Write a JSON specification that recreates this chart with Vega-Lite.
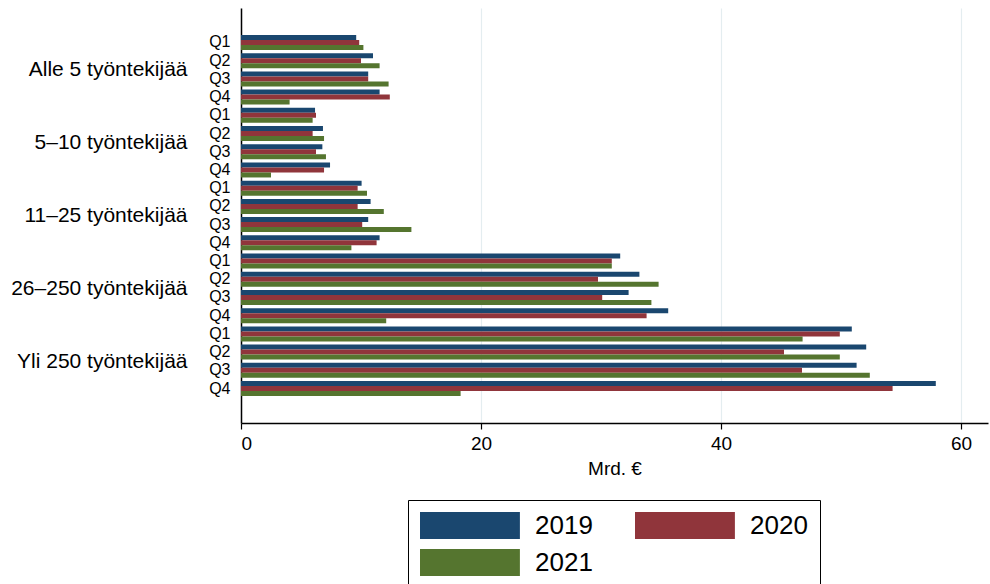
{
  "$schema": "https://vega.github.io/schema/vega-lite/v6.json",
  "width": 747,
  "height": 415,
  "autosize": "none",
  "padding": {"left": 241, "top": 8, "right": 2, "bottom": 161},
  "background": "white",
  "config": {
    "view": {"stroke": null},
    "font": "Liberation Sans",
    "axis": {"labelFont": "Liberation Sans", "titleFont": "Liberation Sans"},
    "legend": {"labelFont": "Liberation Sans"}
  },
  "data": {
    "values": [
      {"koko": "Alle 5 työntekijää", "q": "Q1", "vuosi": "2019", "arvo": 9.6},
      {"koko": "Alle 5 työntekijää", "q": "Q1", "vuosi": "2020", "arvo": 9.85},
      {"koko": "Alle 5 työntekijää", "q": "Q1", "vuosi": "2021", "arvo": 10.2},
      {"koko": "Alle 5 työntekijää", "q": "Q2", "vuosi": "2019", "arvo": 11.0},
      {"koko": "Alle 5 työntekijää", "q": "Q2", "vuosi": "2020", "arvo": 10.0},
      {"koko": "Alle 5 työntekijää", "q": "Q2", "vuosi": "2021", "arvo": 11.55},
      {"koko": "Alle 5 työntekijää", "q": "Q3", "vuosi": "2019", "arvo": 10.6},
      {"koko": "Alle 5 työntekijää", "q": "Q3", "vuosi": "2020", "arvo": 10.6},
      {"koko": "Alle 5 työntekijää", "q": "Q3", "vuosi": "2021", "arvo": 12.3},
      {"koko": "Alle 5 työntekijää", "q": "Q4", "vuosi": "2019", "arvo": 11.55},
      {"koko": "Alle 5 työntekijää", "q": "Q4", "vuosi": "2020", "arvo": 12.4},
      {"koko": "Alle 5 työntekijää", "q": "Q4", "vuosi": "2021", "arvo": 4.05},
      {"koko": "5–10 työntekijää", "q": "Q1", "vuosi": "2019", "arvo": 6.17},
      {"koko": "5–10 työntekijää", "q": "Q1", "vuosi": "2020", "arvo": 6.25},
      {"koko": "5–10 työntekijää", "q": "Q1", "vuosi": "2021", "arvo": 5.97},
      {"koko": "5–10 työntekijää", "q": "Q2", "vuosi": "2019", "arvo": 6.83},
      {"koko": "5–10 työntekijää", "q": "Q2", "vuosi": "2020", "arvo": 5.97},
      {"koko": "5–10 työntekijää", "q": "Q2", "vuosi": "2021", "arvo": 6.92},
      {"koko": "5–10 työntekijää", "q": "Q3", "vuosi": "2019", "arvo": 6.78},
      {"koko": "5–10 työntekijää", "q": "Q3", "vuosi": "2020", "arvo": 6.25},
      {"koko": "5–10 työntekijää", "q": "Q3", "vuosi": "2021", "arvo": 7.08},
      {"koko": "5–10 työntekijää", "q": "Q4", "vuosi": "2019", "arvo": 7.42},
      {"koko": "5–10 työntekijää", "q": "Q4", "vuosi": "2020", "arvo": 6.92},
      {"koko": "5–10 työntekijää", "q": "Q4", "vuosi": "2021", "arvo": 2.5},
      {"koko": "11–25 työntekijää", "q": "Q1", "vuosi": "2019", "arvo": 10.05},
      {"koko": "11–25 työntekijää", "q": "Q1", "vuosi": "2020", "arvo": 9.72},
      {"koko": "11–25 työntekijää", "q": "Q1", "vuosi": "2021", "arvo": 10.5},
      {"koko": "11–25 työntekijää", "q": "Q2", "vuosi": "2019", "arvo": 10.8},
      {"koko": "11–25 työntekijää", "q": "Q2", "vuosi": "2020", "arvo": 9.72},
      {"koko": "11–25 työntekijää", "q": "Q2", "vuosi": "2021", "arvo": 11.9},
      {"koko": "11–25 työntekijää", "q": "Q3", "vuosi": "2019", "arvo": 10.6},
      {"koko": "11–25 työntekijää", "q": "Q3", "vuosi": "2020", "arvo": 10.1},
      {"koko": "11–25 työntekijää", "q": "Q3", "vuosi": "2021", "arvo": 14.2},
      {"koko": "11–25 työntekijää", "q": "Q4", "vuosi": "2019", "arvo": 11.55},
      {"koko": "11–25 työntekijää", "q": "Q4", "vuosi": "2020", "arvo": 11.3},
      {"koko": "11–25 työntekijää", "q": "Q4", "vuosi": "2021", "arvo": 9.2},
      {"koko": "26–250 työntekijää", "q": "Q1", "vuosi": "2019", "arvo": 31.6},
      {"koko": "26–250 työntekijää", "q": "Q1", "vuosi": "2020", "arvo": 30.9},
      {"koko": "26–250 työntekijää", "q": "Q1", "vuosi": "2021", "arvo": 30.9},
      {"koko": "26–250 työntekijää", "q": "Q2", "vuosi": "2019", "arvo": 33.2},
      {"koko": "26–250 työntekijää", "q": "Q2", "vuosi": "2020", "arvo": 29.75},
      {"koko": "26–250 työntekijää", "q": "Q2", "vuosi": "2021", "arvo": 34.8},
      {"koko": "26–250 työntekijää", "q": "Q3", "vuosi": "2019", "arvo": 32.3},
      {"koko": "26–250 työntekijää", "q": "Q3", "vuosi": "2020", "arvo": 30.1},
      {"koko": "26–250 työntekijää", "q": "Q3", "vuosi": "2021", "arvo": 34.2},
      {"koko": "26–250 työntekijää", "q": "Q4", "vuosi": "2019", "arvo": 35.6},
      {"koko": "26–250 työntekijää", "q": "Q4", "vuosi": "2020", "arvo": 33.8},
      {"koko": "26–250 työntekijää", "q": "Q4", "vuosi": "2021", "arvo": 12.1},
      {"koko": "Yli 250 työntekijää", "q": "Q1", "vuosi": "2019", "arvo": 50.9},
      {"koko": "Yli 250 työntekijää", "q": "Q1", "vuosi": "2020", "arvo": 49.9},
      {"koko": "Yli 250 työntekijää", "q": "Q1", "vuosi": "2021", "arvo": 46.8},
      {"koko": "Yli 250 työntekijää", "q": "Q2", "vuosi": "2019", "arvo": 52.1},
      {"koko": "Yli 250 työntekijää", "q": "Q2", "vuosi": "2020", "arvo": 45.25},
      {"koko": "Yli 250 työntekijää", "q": "Q2", "vuosi": "2021", "arvo": 49.9},
      {"koko": "Yli 250 työntekijää", "q": "Q3", "vuosi": "2019", "arvo": 51.3},
      {"koko": "Yli 250 työntekijää", "q": "Q3", "vuosi": "2020", "arvo": 46.75},
      {"koko": "Yli 250 työntekijää", "q": "Q3", "vuosi": "2021", "arvo": 52.4},
      {"koko": "Yli 250 työntekijää", "q": "Q4", "vuosi": "2019", "arvo": 57.9},
      {"koko": "Yli 250 työntekijää", "q": "Q4", "vuosi": "2020", "arvo": 54.3},
      {"koko": "Yli 250 työntekijää", "q": "Q4", "vuosi": "2021", "arvo": 18.3}
    ]
  },
  "transform": [{"calculate": "datum.koko + '|' + datum.q", "as": "ryhma"}],
  "layer": [
    {
      "mark": {"type": "bar"},
      "encoding": {
        "y": {
          "field": "ryhma",
          "type": "nominal",
          "scale": {
            "domain": [
              "_alku",
              "Alle 5 työntekijää|Q1", "Alle 5 työntekijää|Q2", "Alle 5 työntekijää|Q3", "Alle 5 työntekijää|Q4",
              "5–10 työntekijää|Q1", "5–10 työntekijää|Q2", "5–10 työntekijää|Q3", "5–10 työntekijää|Q4",
              "11–25 työntekijää|Q1", "11–25 työntekijää|Q2", "11–25 työntekijää|Q3", "11–25 työntekijää|Q4",
              "26–250 työntekijää|Q1", "26–250 työntekijää|Q2", "26–250 työntekijää|Q3", "26–250 työntekijää|Q4",
              "Yli 250 työntekijää|Q1", "Yli 250 työntekijää|Q2", "Yli 250 työntekijää|Q3", "Yli 250 työntekijää|Q4",
              "_loppu"
            ],
            "paddingInner": 0.176,
            "paddingOuter": 0.48
          },
          "axis": {
            "title": null,
            "orient": "left",
            "labelExpr": "indexof(datum.label, '|') >= 0 ? split(datum.label, '|')[1] : ''",
            "ticks": false,
            "grid": false,
            "domainColor": "black",
            "domainWidth": 1.5,
            "labelFontSize": 16,
            "labelColor": "black",
            "labelPadding": 11,
            "labelOverlap": false
          }
        },
        "yOffset": {"field": "vuosi", "type": "nominal", "scale": {"paddingInner": 0}},
        "x": {
          "field": "arvo",
          "type": "quantitative",
          "scale": {"domain": [0, 62.25], "nice": false, "zero": true},
          "axis": {
            "title": "Mrd. €",
            "values": [0, 20, 40, 60],
            "grid": true,
            "gridColor": "#e4edf0",
            "gridWidth": 1.2,
            "domainColor": "black",
            "domainWidth": 1.5,
            "tickColor": "black",
            "tickSize": 6,
            "tickWidth": 1.2,
            "labelFontSize": 19,
            "labelColor": "black",
            "labelPadding": 5,
            "titleFontSize": 19,
            "titleFontWeight": "normal",
            "titleColor": "black",
            "titlePadding": 6
          }
        },
        "color": {
          "field": "vuosi",
          "type": "nominal",
          "scale": {"domain": ["2019", "2020", "2021"], "range": ["#1a476f", "#90353b", "#55752f"]},
          "legend": {
            "title": null,
            "orient": "none",
            "legendX": 167,
            "legendY": 492,
            "direction": "horizontal",
            "columns": 2,
            "symbolType": "M-1,-1H6.4V1H-1Z",
            "symbolSize": 729,
            "symbolStrokeWidth": 0,
            "symbolOpacity": 1,
            "labelFontSize": 26,
            "labelColor": "black",
            "labelOffset": 88,
            "columnPadding": 42,
            "rowPadding": 10,
            "strokeColor": "black",
            "padding": 12
          }
        }
      }
    },
    {
      "mark": {"type": "point", "opacity": 0},
      "encoding": {
        "y": {
          "field": "koko",
          "type": "nominal",
          "sort": ["Alle 5 työntekijää", "5–10 työntekijää", "11–25 työntekijää", "26–250 työntekijää", "Yli 250 työntekijää"],
          "scale": {"type": "point", "padding": 0.849},
          "axis": {
            "title": null,
            "orient": "left",
            "ticks": false,
            "domain": false,
            "grid": false,
            "labelFontSize": 21,
            "labelColor": "black",
            "labelPadding": 54,
            "labelLimit": 400,
            "labelOverlap": false
          }
        },
        "x": {"datum": 0}
      }
    }
  ],
  "resolve": {"scale": {"y": "independent"}, "axis": {"y": "independent"}}
}
